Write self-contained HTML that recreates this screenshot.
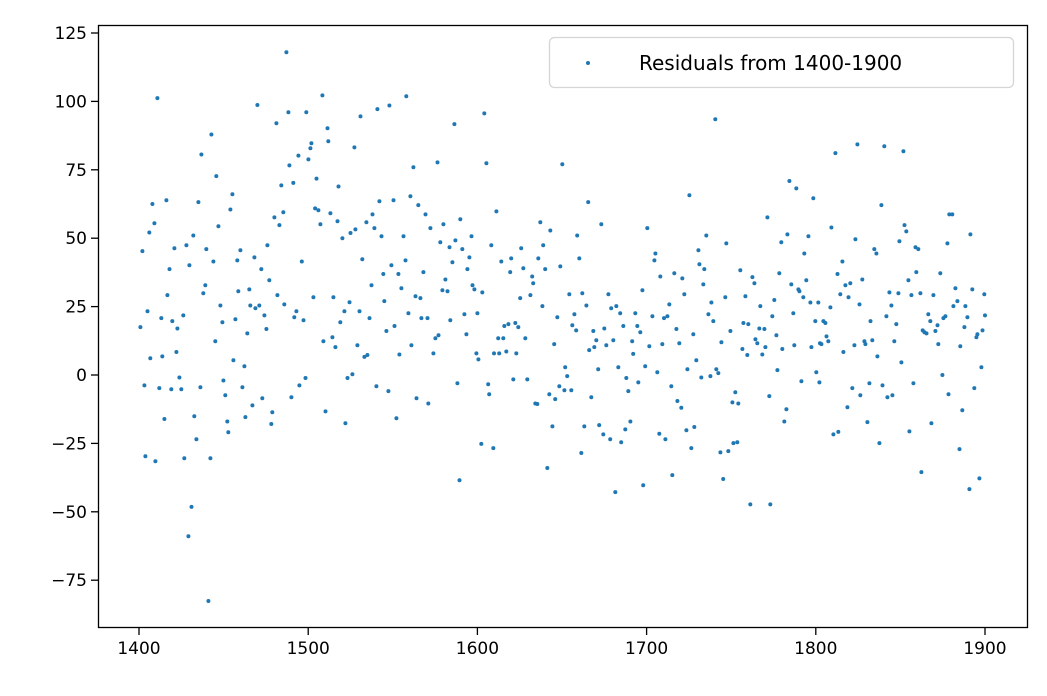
<!DOCTYPE html>
<html><head><meta charset="utf-8"><style>
html,body{margin:0;padding:0;background:#fff;}
svg{display:block;font-family:"DejaVu Sans","Liberation Sans",sans-serif;}
</style></head><body>
<svg id="chart" width="1047" height="696" viewBox="0 0 1047 696" xmlns="http://www.w3.org/2000/svg">
<rect x="0" y="0" width="1047" height="696" fill="#fff"/>
<g id="points"></g>
<g id="xticks"></g>
<g id="yticks"></g>
<rect x="98.5" y="25.5" width="929" height="602" fill="none" stroke="#000" stroke-width="1.3"/>
<g>
<rect x="549.5" y="37.5" width="464" height="50" rx="5" fill="#fff" fill-opacity="0.8" stroke="#d5d5d5" stroke-width="1.3"/>
<circle cx="588" cy="63" r="2" fill="#1f77b4"/>
<text x="639" y="70" font-size="20" fill="#000">Residuals from 1400-1900</text>
</g>
</svg>
<script>
const xTicks = [1400,1500,1600,1700,1800,1900];
const yTicks = [-75,-50,-25,0,25,50,75,100,125];
const years = [1410.9,1487.1,1470.0,1488.3,1498.9,1481.2,1442.8,1436.9,1494.2,1488.9,1445.7,1484.1,1491.2,1455.2,1407.9,1416.2,1435.1,1454.0,1480.0,1485.3,1483.0,1409.1,1406.1,1446.9,1432.1,1402.0,1420.9,1428.0,1439.8,1459.9,1475.9,1468.2,1458.1,1444.0,1429.8,1418.0,1472.3,1477.0,1439.2,1438.0,1416.8,1458.7,1465.2,1481.8,1485.9,1448.1,1465.8,1468.8,1471.1,1474.1,1493.0,1491.8,1405.0,1400.8,1413.2,1419.7,1422.7,1426.2,1449.3,1457.0,1464.0,1475.3,1445.1,1406.7,1413.8,1422.1,1455.8,1462.3,1423.9,1403.2,1412.0,1419.1,1425.0,1436.3,1449.9,1451.0,1461.1,1467.0,1472.9,1490.1,1494.8,1415.0,1432.7,1452.2,1452.8,1462.9,1478.8,1478.2,1433.9,1403.8,1409.7,1426.8,1442.2,1431.0,1429.2,1441.0,
1508.4,1530.9,1540.9,1548.0,1558.0,1586.4,1511.4,1511.9,1501.9,1501.3,1500.1,1527.3,1562.2,1576.4,1504.9,1517.9,1504.1,1506.0,1513.1,1507.2,1517.3,1520.2,1525.0,1527.9,1534.4,1538.0,1539.1,1542.1,1543.3,1550.4,1556.3,1560.4,1565.1,1569.3,1572.2,1579.9,1589.9,1578.1,1583.5,1587.0,1591.1,1596.5,1595.3,1496.2,1532.0,1549.2,1557.5,1544.4,1553.3,1568.1,1585.2,1594.1,1537.4,1555.1,1581.1,1579.3,1582.3,1597.1,1598.2,1503.1,1514.9,1524.4,1521.4,1530.3,1545.0,1563.4,1566.3,1559.2,1566.9,1570.5,1536.2,1519.0,1497.2,1584.0,1592.3,1600.0,1546.2,1551.0,1509.0,1514.3,1516.1,1529.1,1533.2,1535.0,1553.9,1561.0,1574.0,1575.2,1577.0,1593.5,1599.4,1600.6,1498.4,1523.2,1526.1,1540.3,1547.4,1564.0,1571.0,1588.2,1510.2,1522.0,1552.1,1589.4,
1604.1,1605.3,1650.2,1665.5,1611.2,1637.2,1643.1,1673.2,1659.0,1700.4,1608.2,1625.9,1638.9,1614.1,1620.0,1636.0,1660.2,1619.4,1627.1,1640.1,1649.0,1632.4,1633.0,1602.9,1625.3,1631.3,1654.3,1662.0,1677.4,1697.5,1638.4,1664.4,1657.3,1647.2,1679.1,1682.1,1684.4,1693.3,1656.1,1658.4,1668.5,1675.0,1686.2,1694.5,1696.3,1615.9,1618.3,1622.4,1624.2,1612.3,1615.3,1628.3,1645.4,1670.3,1680.3,1691.5,1669.1,1666.1,1676.2,1701.6,1609.8,1612.9,1617.1,1623.0,1692.1,1671.4,1683.3,1699.2,1651.9,1653.1,1621.2,1629.5,1688.0,1695.1,1606.4,1607.0,1648.4,1651.4,1655.5,1642.5,1646.0,1667.3,1689.2,1634.2,1635.4,1644.3,1663.2,1672.0,1674.4,1678.5,1687.4,1690.4,1685.0,1602.3,1609.4,1661.4,1641.3,1681.5,1698.0,
1740.6,1725.3,1784.4,1788.5,1798.5,1771.4,1735.3,1747.1,1783.2,1779.6,1795.6,1730.6,1705.2,1704.6,1793.2,1731.2,1734.1,1708.1,1716.4,1721.1,1755.4,1762.5,1763.7,1778.4,1733.5,1722.3,1785.5,1789.7,1790.3,1794.4,1713.4,1738.3,1746.5,1758.4,1775.5,1792.6,1796.8,1801.5,1767.2,1703.4,1710.3,1712.3,1736.5,1739.4,1774.3,1786.7,1799.7,1757.2,1760.1,1766.6,1769.6,1717.6,1727.6,1749.5,1776.7,1709.3,1719.3,1744.2,1764.3,1765.4,1770.2,1756.6,1759.5,1768.4,1780.2,1787.3,1797.4,1802.5,1729.4,1724.1,1777.3,1800.3,1706.3,1741.2,1742.4,1732.3,1737.7,1714.6,1791.5,1802.1,1752.4,1750.7,1754.2,1772.5,1718.2,1720.5,1782.6,1781.4,1723.5,1728.2,1707.5,1711.1,1726.4,1743.6,1748.3,1751.3,1753.6,1715.2,1745.3,1761.3,1773.1,
1811.6,1824.6,1840.5,1851.8,1838.8,1809.2,1823.4,1852.4,1853.5,1849.4,1834.6,1835.8,1858.9,1860.6,1878.9,1880.7,1877.8,1891.4,1815.7,1812.8,1859.4,1873.6,1827.5,1817.5,1820.4,1854.7,1814.5,1819.3,1843.5,1848.8,1856.5,1861.8,1869.5,1882.5,1892.5,1899.6,1808.6,1825.8,1844.7,1881.3,1883.7,1888.4,1804.5,1805.7,1832.3,1841.7,1847.6,1866.5,1867.7,1871.9,1875.4,1876.6,1889.6,1900.0,1887.8,1898.5,1895.5,1894.9,1863.2,1864.2,1865.4,1870.7,1806.3,1807.4,1803.3,1822.8,1828.7,1829.3,1833.4,1846.4,1872.4,1885.4,1816.3,1836.4,1850.6,1897.9,1874.8,1821.6,1826.3,1831.7,1839.4,1842.3,1845.3,1857.7,1878.4,1893.7,1818.7,1886.6,1830.5,1868.3,1810.4,1813.3,1855.3,1837.6,1884.9,1862.4,1890.8,1896.7];
const residuals = [101.2,118.0,98.7,96.0,96.0,92.0,87.9,80.6,80.2,76.6,72.7,69.3,70.2,66.1,62.5,63.9,63.2,60.5,57.6,59.5,54.8,55.5,52.1,54.4,51.0,45.3,46.3,47.4,46.0,45.6,47.4,43.0,41.9,41.5,40.1,38.7,38.7,34.6,32.8,29.9,29.2,30.6,31.3,29.2,25.8,25.4,25.4,24.4,25.4,21.8,23.3,21.1,23.3,17.5,20.8,19.7,17.0,21.8,19.3,20.4,15.2,16.8,12.3,6.1,6.8,8.4,5.4,3.2,-0.9,-3.8,-4.8,-5.2,-5.2,-4.5,-2.0,-7.4,-4.5,-11.1,-8.5,-8.1,-3.8,-16.1,-15.1,-17.0,-20.9,-15.4,-13.6,-17.9,-23.5,-29.7,-31.5,-30.4,-30.4,-48.2,-58.9,-82.6,
102.2,94.5,97.2,98.5,101.9,91.7,90.2,85.4,84.7,82.9,78.8,83.2,75.9,77.7,71.8,68.9,60.9,60.2,59.1,55.1,56.2,50.0,51.9,53.2,55.8,58.7,53.7,63.5,50.7,63.9,50.7,65.3,62.1,58.7,53.7,55.1,56.9,48.5,46.7,49.2,46.0,50.7,43.0,41.5,42.3,40.1,41.9,36.9,36.9,37.6,41.2,38.7,32.8,31.7,34.9,31.0,30.6,32.8,31.3,28.4,28.4,26.6,23.3,23.3,27.0,28.8,28.1,22.6,20.8,20.8,20.8,19.3,20.0,20.0,22.2,22.6,16.1,17.9,12.3,13.8,10.2,10.9,6.6,7.3,7.5,10.9,7.9,13.4,14.5,14.9,7.9,5.7,-1.1,-1.1,0.3,-4.1,-5.9,-8.5,-10.4,-3.0,-13.3,-17.6,-15.8,-38.5,
95.6,77.4,77.0,63.2,59.8,55.8,52.8,55.1,51.0,53.7,47.4,46.3,47.4,41.5,42.6,42.6,42.6,37.6,39.0,38.7,39.7,36.0,33.5,30.2,28.1,29.2,29.5,29.9,29.5,31.0,25.2,25.4,22.2,21.1,24.4,25.2,22.6,22.6,18.2,16.3,16.1,17.0,17.9,17.9,15.6,17.9,18.6,19.0,17.5,13.4,13.4,13.4,11.3,12.7,12.7,12.3,10.2,9.1,10.9,10.5,7.9,7.9,8.6,7.9,7.7,2.1,2.8,3.2,2.8,-0.4,-1.6,-1.6,-1.1,-2.7,-3.4,-7.0,-4.1,-5.6,-5.6,-7.0,-8.8,-8.1,-5.9,-10.4,-10.6,-18.8,-18.8,-18.3,-21.7,-23.5,-19.9,-17.0,-24.6,-25.2,-26.7,-28.5,-34.0,-42.8,-40.3,
93.5,65.7,70.9,68.2,64.6,57.6,51.0,48.1,51.4,48.5,50.7,45.6,44.4,41.9,44.4,40.5,38.7,36.0,37.2,35.3,38.3,35.8,33.5,37.2,33.1,29.5,33.1,31.3,30.6,34.6,25.8,26.5,28.4,28.8,27.4,28.4,26.5,26.5,25.2,21.5,20.8,21.5,22.2,19.7,21.5,22.6,19.7,19.0,18.6,17.0,16.8,16.8,14.9,16.1,14.5,11.3,11.6,12.0,13.1,11.6,10.2,9.5,7.3,7.5,9.5,10.9,10.2,11.6,5.4,2.1,1.8,1.0,1.0,2.1,0.7,-0.9,-0.4,-4.1,-2.3,-2.7,-6.3,-10.0,-10.4,-7.7,-9.5,-12.0,-12.5,-17.0,-20.2,-19.0,-21.5,-23.5,-26.7,-28.3,-27.8,-24.9,-24.6,-36.6,-38.0,-47.3,-47.3,
81.1,84.3,83.6,81.8,62.1,53.9,49.6,54.8,52.5,48.9,46.0,44.4,46.7,46.0,58.7,58.7,48.1,51.4,41.5,36.9,37.6,37.2,34.9,32.8,33.5,34.6,29.5,28.4,30.2,29.9,29.2,29.9,29.2,31.7,31.3,29.5,24.7,25.8,25.4,25.2,27.0,25.2,19.7,19.0,19.7,21.5,18.6,22.2,19.7,18.2,20.8,21.5,21.1,21.8,17.5,16.3,14.9,13.8,16.3,15.6,15.2,16.1,14.1,12.3,11.3,10.9,12.3,11.3,12.7,12.3,11.3,10.5,8.4,6.8,4.6,2.8,0.0,-4.8,-7.4,-3.0,-3.8,-8.1,-7.4,-3.0,-7.0,-4.8,-11.8,-12.9,-17.2,-17.6,-21.7,-20.8,-20.6,-24.9,-27.1,-35.5,-41.7,-37.8];

const NS = "http://www.w3.org/2000/svg";
function xScale(yr){ return 139 + (yr - 1400) * 1.692; }
function yScale(v){ return 375 - v * 2.736; }

const pts = document.getElementById('points');
for (let i = 0; i < years.length; i++) {
  const c = document.createElementNS(NS, 'circle');
  c.setAttribute('cx', xScale(years[i]).toFixed(1));
  c.setAttribute('cy', yScale(residuals[i]).toFixed(1));
  c.setAttribute('r', '2');
  c.setAttribute('fill', '#1f77b4');
  
  
  pts.appendChild(c);
}
const xg = document.getElementById('xticks');
xTicks.forEach(t => {
  const x = xScale(t);
  const l = document.createElementNS(NS, 'line');
  l.setAttribute('x1', x); l.setAttribute('x2', x);
  l.setAttribute('y1', 628); l.setAttribute('y2', 635);
  l.setAttribute('stroke', '#000'); l.setAttribute('stroke-width', '1.3');
  
  
  xg.appendChild(l);
  const tx = document.createElementNS(NS, 'text');
  tx.setAttribute('x', x); tx.setAttribute('y', 654);
  tx.setAttribute('text-anchor', 'middle'); tx.setAttribute('font-size', '17');
  
  
  tx.textContent = t;
  xg.appendChild(tx);
});
const yg = document.getElementById('yticks');
yTicks.forEach(t => {
  const y = yScale(t);
  const l = document.createElementNS(NS, 'line');
  l.setAttribute('x1', 91); l.setAttribute('x2', 98);
  l.setAttribute('y1', y); l.setAttribute('y2', y);
  l.setAttribute('stroke', '#000'); l.setAttribute('stroke-width', '1.3');
  
  
  yg.appendChild(l);
  const tx = document.createElementNS(NS, 'text');
  tx.setAttribute('x', 87); tx.setAttribute('y', y + 6);
  tx.setAttribute('text-anchor', 'end'); tx.setAttribute('font-size', '17');
  
  
  tx.textContent = t < 0 ? '\u2212' + Math.abs(t) : t;
  yg.appendChild(tx);
});
</script>
</body></html>
